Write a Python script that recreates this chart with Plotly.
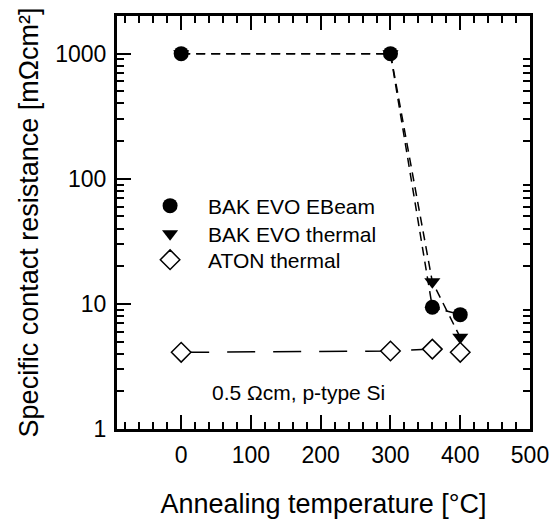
import math
import plotly.graph_objects as go

# ---- data ----
temps = [0, 300, 360, 400]
ebeam = [1000, 1000, 9.4, 8.2]
thermal = [1000, 1000, 15.0, 5.4]
aton = [4.1, 4.2, 4.35, 4.1]

names = ["BAK EVO EBeam", "BAK EVO thermal", "ATON thermal"]
x_ticks = [0, 100, 200, 300, 400, 500]
y_ticks = [1, 10, 100, 1000]
y_ticktext = ["1", "10", "100", "1000"]
y_minor = [m * d for d in (1, 10, 100) for m in range(2, 10)]
note = "0.5 \u03a9cm, p-type Si"
x_title = "Annealing temperature [\u00b0C]"
y_title = "Specific contact resistance [m\u03a9cm\u00b2]"

FONT = "Arial, Liberation Sans, sans-serif"
fig = go.Figure()

# connecting lines (no legend)
fig.add_trace(go.Scatter(x=temps, y=ebeam, mode="lines", showlegend=False,
                         line=dict(color="black", width=1.5, dash="9px,6px")))
fig.add_trace(go.Scatter(x=temps, y=thermal, mode="lines", showlegend=False,
                         line=dict(color="black", width=1.5, dash="9px,6px")))
fig.add_trace(go.Scatter(x=temps, y=aton, mode="lines", showlegend=False,
                         line=dict(color="black", width=1.5, dash="28px,18px")))

# markers (each in its own legend for exact row spacing)
fig.add_trace(go.Scatter(x=temps, y=ebeam, mode="markers", name=names[0], legend="legend",
                         marker=dict(symbol="circle", size=15, color="black")))
fig.add_trace(go.Scatter(x=temps, y=thermal, mode="markers", name=names[1], legend="legend2",
                         marker=dict(symbol="triangle-down", size=14, color="black")))
fig.add_trace(go.Scatter(x=temps, y=aton, mode="markers", name=names[2], legend="legend3",
                         marker=dict(symbol="diamond", size=15, color="white",
                                     line=dict(color="black", width=1.5))))

# dummy trace for right-hand minor-tick axis
fig.add_trace(go.Scatter(x=[], y=[], yaxis="y2", showlegend=False))

yr = [0, math.log10(2000)]


def leg(ytop):
    return dict(x=0.0365, y=ytop, xanchor="left", yanchor="top",
                bgcolor="rgba(0,0,0,0)", borderwidth=0, itemwidth=66,
                font=dict(size=21), itemsizing="trace")


fig.update_layout(
    width=558, height=519,
    margin=dict(l=117, r=28, t=16, b=90),
    plot_bgcolor="white", paper_bgcolor="white",
    font=dict(family=FONT, color="black", size=23),
    xaxis=dict(
        range=[-92, 500], tickvals=x_ticks, ticks="inside", ticklen=14, tickwidth=2,
        tickcolor="black", showline=True, linewidth=3, linecolor="black",
        mirror="ticks", showgrid=False, zeroline=False, ticklabelstandoff=3,
        automargin=False,
        minor=dict(dtick=20, ticks="inside", ticklen=7, tickwidth=2, tickcolor="black", showgrid=False),
        title=dict(text=x_title, font=dict(size=27), standoff=40),
        tickfont=dict(size=23),
    ),
    yaxis=dict(
        type="log", range=yr, tickvals=y_ticks, ticktext=y_ticktext,
        ticks="inside", ticklen=14, tickwidth=2, tickcolor="black",
        showline=True, linewidth=3, linecolor="black", mirror=True,
        showgrid=False, zeroline=False, ticklabelstandoff=3, automargin=False,
        minor=dict(tickvals=y_minor, ticks="inside", ticklen=7, tickwidth=2, tickcolor="black", showgrid=False),
        title=dict(text=y_title, font=dict(size=27), standoff=9),
        tickfont=dict(size=23),
    ),
    yaxis2=dict(
        type="log", range=yr, overlaying="y", side="right", anchor="x",
        tickvals=y_minor, ticks="inside", ticklen=7, tickwidth=2, tickcolor="black",
        showticklabels=False, showline=False, showgrid=False, zeroline=False,
        automargin=False,
    ),
    legend=leg(0.5896),
    legend2=leg(0.5218),
    legend3=leg(0.4588),
    annotations=[dict(x=168, y=math.log10(1.94), xref="x", yref="y", text=note,
                      showarrow=False, font=dict(size=21))],
)

fig.write_html("out.html")
